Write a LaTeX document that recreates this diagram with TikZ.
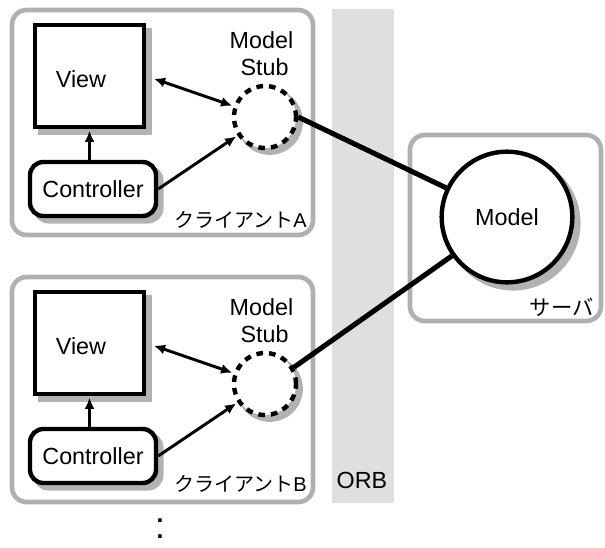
\documentclass[tikz,border=0pt]{standalone}
\usepackage{fontspec}
\setmainfont{Liberation Sans}
\newfontfamily\cjk{Noto Sans CJK JP}
\usetikzlibrary{arrows.meta}
\begin{document}
\begin{tikzpicture}[x=0.75pt,y=-0.75pt,
  shd/.style={preaction={fill=gray!60,draw=gray!60,solid,transform canvas={xshift=#1,yshift=-#1}}},
  shd/.default=4pt,
  client/.style={draw=gray!62,line width=3.5pt,rounded corners=11pt,fill=white},
  viewbox/.style={draw,line width=3.3pt,fill=white,minimum width=81.75pt,minimum height=76.5pt,inner sep=0pt,shd},
  ctrlbox/.style={draw,line width=3.3pt,fill=white,rounded corners=10pt,minimum width=94.5pt,minimum height=40.5pt,inner sep=0pt,shd,font=\fontsize{17.5}{20}\selectfont},
  stubnode/.style={circle,draw,line width=3.3pt,dash pattern=on 5pt off 4.5pt,fill=white,minimum size=46.5pt,inner sep=0pt,shd=3.5pt},
  modelnode/.style={circle,draw,line width=3.3pt,fill=white,minimum size=98pt,inner sep=0pt,shd=4.5pt,font=\fontsize{17.5}{20}\selectfont},
  lbl/.style={font=\fontsize{17.5}{20}\selectfont,inner sep=0pt},
  jlbl/.style={font=\fontsize{15}{18}\selectfont,inner sep=0pt},
  arr/.style={line width=2.2pt,-{Latex[length=8.5pt,width=7.5pt]}},
  darr/.style={line width=2.2pt,{Latex[length=8.5pt,width=7.5pt]}-{Latex[length=8.5pt,width=7.5pt]}},
  link/.style={line width=3.8pt}]
\useasboundingbox (0,0) rectangle (605,547);
% ORB stripe
\fill[gray!25] (332,9) rectangle (394,503);
\node[lbl,anchor=base] (orb) at (362,488) {ORB};
% Client A
\draw[client] (12,10) rectangle (313,235);
\node[viewbox] (viewA) at (89.5,76) {};
\node[lbl,anchor=base] (vtA) at (81,87) {View};
\node[ctrlbox] (ctrlA) at (93,189) {Controller};
\node[stubnode] (stubA) at (265,117) {};
\node[lbl,anchor=base] (msA1) at (261.5,48) {Model};
\node[lbl,anchor=base] (msA2) at (264.5,75) {Stub};
\node[jlbl,anchor=base east] (cliA) at (307,227) {{\cjk クライアント}A};
\draw[darr,shorten <=6pt,shorten >=1pt] (viewA.east) -- (stubA);
\draw[arr,shorten >=1pt] (ctrlA.north -| viewA.south) -- (viewA.south);
\draw[arr,shorten >=1pt] (ctrlA.east) -- (stubA);
% Client B
\draw[client] (12,277) rectangle (313,502);
\node[viewbox] (viewB) at (89.5,343) {};
\node[lbl,anchor=base] (vtB) at (81,354) {View};
\node[ctrlbox] (ctrlB) at (93,456) {Controller};
\node[stubnode] (stubB) at (265,384) {};
\node[lbl,anchor=base] (msB1) at (261.5,315) {Model};
\node[lbl,anchor=base] (msB2) at (264.5,342) {Stub};
\node[jlbl,anchor=base east] (cliB) at (307,491) {{\cjk クライアント}B};
\draw[darr,shorten <=6pt,shorten >=1pt] (viewB.east) -- (stubB);
\draw[arr,shorten >=1pt] (ctrlB.north -| viewB.south) -- (viewB.south);
\draw[arr,shorten >=1pt] (ctrlB.east) -- (stubB);
% Server
\draw[client] (410,135) rectangle (601,321);
\node[modelnode] (model) at (507,217) {Model};
\node[jlbl,anchor=base east,font=\fontsize{16}{18}\selectfont\cjk] (srv) at (594,315) {サーバ};
% links
\draw[link] (stubA.east) -- (model);
\draw[link] (stubB.30) -- (model);
% more clients
\node[inner sep=0pt,font=\fontsize{28}{28}\selectfont] (more) at (160,529) {:};
\end{tikzpicture}
\end{document}
